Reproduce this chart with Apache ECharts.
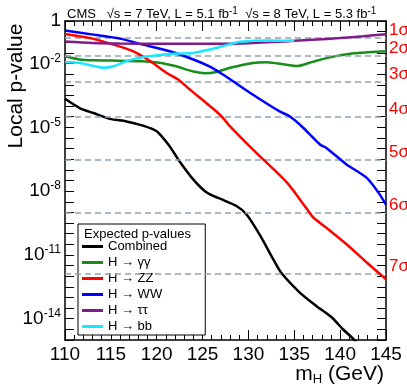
<!DOCTYPE html>
<html><head><meta charset="utf-8">
<script src="https://cdn.jsdelivr.net/npm/echarts@6/dist/echarts.min.js"></script>
<style>html,body{margin:0;padding:0;background:#fff}#c{width:407px;height:391px}</style>
</head><body><div id="c"></div>
<script>
// ---- data ----
const xMin = 110, xMax = 145;
const yMin = 1e-15, yMax = 1;
const yLabelExps = [0, -2, -5, -8, -11, -14];
const sigmaP = [0.1587, 0.02275, 1.35e-3, 3.17e-5, 2.87e-7, 9.87e-10, 1.28e-12];
const sigmaNames = ['1σ','2σ','3σ','4σ','5σ','6σ','7σ'];

const seriesNames = ['Combined', 'H → γγ', 'H → ZZ', 'H → WW', 'H → ττ', 'H → bb'];
const seriesColors = ['#000000', '#1a8c1a', '#ff0000', '#0000ff', '#821b8a', '#19e6ff'];

const combinedM = [110, 111.6, 113.1, 114.9, 116.7, 118.5, 120, 121.4, 122.5, 124, 125.5, 126.9, 128.7, 129.8, 131.3, 132.7, 133.6, 135.6, 137.4, 139.1, 140.3, 141.3, 142];
const combinedP = [2.2e-4, 8.1e-5, 4.7e-5, 2.5e-5, 1.9e-5, 1.2e-5, 6.5e-6, 1.3e-6, 2.5e-7, 3.5e-8, 8.3e-9, 4.4e-9, 2.0e-9, 7.9e-10, 7.9e-11, 6.3e-12, 1.4e-12, 1.7e-13, 4.0e-14, 1.15e-14, 3.2e-15, 1.3e-15, 6e-16];

const ggM = [110, 111.6, 113, 115, 118.5, 120.5, 122, 124, 125.3, 126.5, 128, 130.5, 132, 134, 135.3, 137, 139, 141.5, 143, 145];
const ggP = [0.0219, 0.0155, 0.0141, 0.0138, 0.0129, 0.0107, 0.0076, 0.0042, 0.0035, 0.0040, 0.0063, 0.0107, 0.0115, 0.0089, 0.0076, 0.0120, 0.0200, 0.0302, 0.0339, 0.0380];

const zzM = [110, 113, 115.3, 117.4, 119.3, 121.1, 122.4, 123.4, 126.9, 128, 130.5, 134.2, 136.4, 137.1, 138.5, 140.7, 142.9, 145];
const zzP = [0.245, 0.148, 0.0776, 0.0380, 0.0129, 3.6e-3, 1.7e-3, 7.2e-4, 3.9e-5, 1.1e-5, 8.9e-7, 2.5e-8, 1.4e-9, 5.6e-10, 1.9e-10, 3.2e-11, 4.4e-12, 7.2e-13];

const wwM = [110, 113.1, 116, 118.5, 121.4, 124, 125.8, 127, 127.8, 130.5, 133.4, 134.5, 136, 137.8, 138.5, 140.7, 142.9, 144.2, 145];
const wwP = [0.355, 0.229, 0.148, 0.0776, 0.0380, 0.0155, 7.1e-3, 3.5e-3, 2.1e-3, 3.4e-4, 5.6e-5, 3.3e-5, 9.3e-6, 1.55e-6, 1.07e-6, 1.8e-7, 4.2e-8, 8.3e-9, 2.3e-9];

const ttM = [110, 113, 116, 120, 124, 127, 130, 134, 137, 140, 142.5, 145];
const ttP = [0.110, 0.093, 0.087, 0.085, 0.085, 0.085, 0.091, 0.110, 0.132, 0.158, 0.191, 0.240];

const bbM = [110, 111.6, 113, 114.2, 115.3, 116.7, 118.5, 121.4, 124, 125.8, 127.8, 129.1, 132.4, 135];
const bbP = [0.0115, 0.0107, 0.0079, 0.0063, 0.0074, 0.0129, 0.0200, 0.0282, 0.0316, 0.0457, 0.0776, 0.105, 0.120, 0.117];

// ---- build ----
const FONT = 'Liberation Sans, Arial, sans-serif';
const zip = (m, p) => m.map((v, i) => [v, p[i]]);
const allData = [zip(combinedM, combinedP), zip(ggM, ggP), zip(zzM, zzP), zip(wwM, wwP), zip(ttM, ttP), zip(bbM, bbP)];

const chart = echarts.init(document.getElementById('c'), null, {renderer: 'canvas'});

const series = allData.map((d, i) => ({
  name: seriesNames[i], type: 'line', data: d, xAxisIndex: 0, yAxisIndex: 0,
  showSymbol: false, smooth: 0.25, clip: true,
  lineStyle: {color: seriesColors[i], width: 2.5}, itemStyle: {color: seriesColors[i]},
  z: 3 + i, animation: false
}));
series[0].markLine = {
  silent: true, symbol: ['none', 'none'], animation: false, precision: 20,
  lineStyle: {type: [6, 4], color: '#90a2b2', width: 1.5},
  label: {show: false},
  data: sigmaP.map(p => ({yAxis: p}))
};
series[0].z = 2;

const yLabelFmt = v => {
  const e = Math.round(Math.log10(v) * 2) / 2;
  if (e === 0) return '1';
  if (yLabelExps.includes(e)) return '10{s|' + e + '}';
  return '';
};
const sigmaFmt = v => {
  const i = sigmaP.findIndex(p => Math.abs(Math.log10(p) - Math.log10(v)) < 0.02);
  return i >= 0 ? sigmaNames[i] : '';
};

const option = {
  backgroundColor: '#fff',
  animation: false,
  textStyle: {fontFamily: FONT},
  grid: {left: 65, right: 21, top: 21, bottom: 51, containLabel: false, outerBoundsMode: 'none'},
  title: [{
    text: 'CMS   √s = 7 TeV, L = 5.1 fb{s|-1}  √s = 8 TeV, L = 5.3 fb{s|-1}',
    left: 62, top: 1,
    textStyle: {fontSize: 13, fontWeight: 'normal', color: '#000', fontFamily: FONT,
      rich: {s: {fontSize: 10, padding: [0, 0, 7, 0], fontFamily: FONT, color: '#000'}}}
  }, {
    text: 'Expected p-values', left: 79, top: 223,
    textStyle: {fontSize: 13, fontWeight: 'normal', color: '#000', fontFamily: FONT}
  }],
  legend: {
    data: seriesNames, orient: 'vertical', left: 78, top: 224,
    padding: [16, 38, 2, 4], itemGap: 3, itemWidth: 21, itemHeight: 3, icon: 'rect',
    borderColor: '#000', borderWidth: 1, backgroundColor: '#fff',
    textStyle: {fontSize: 13, color: '#000', fontFamily: FONT}, selectedMode: false
  },
  xAxis: [{
    type: 'value', min: xMin, max: xMax, interval: 5, position: 'bottom',
    axisLine: {show: true, lineStyle: {color: '#000', width: 1.5}},
    axisTick: {show: true, inside: true, length: 10, lineStyle: {color: '#000', width: 1}},
    minorTick: {show: true, splitNumber: 5, length: 5, lineStyle: {color: '#000', width: 1}},
    splitLine: {show: false},
    axisLabel: {fontSize: 19, color: '#000', fontFamily: FONT, margin: 5}
  }, {
    type: 'value', min: xMin, max: xMax, interval: 5, position: 'top',
    axisLine: {show: true, lineStyle: {color: '#000', width: 1.5}},
    axisTick: {show: true, inside: true, length: 10, lineStyle: {color: '#000', width: 1}},
    minorTick: {show: true, splitNumber: 5, length: 5, lineStyle: {color: '#000', width: 1}},
    splitLine: {show: false}, axisLabel: {show: false}
  }],
  yAxis: [{
    type: 'log', logBase: 10, min: yMin, max: yMax, interval: 0.5, position: 'left',
    axisLine: {show: true, lineStyle: {color: '#000', width: 1.5}},
    axisTick: {show: true, inside: true, length: 9, interval: 0, lineStyle: {color: '#000', width: 1}},
    splitLine: {show: false},
    axisLabel: {interval: 0, formatter: yLabelFmt, fontSize: 19, color: '#000', fontFamily: FONT, margin: 4,
      showMinLabel: true, showMaxLabel: true, hideOverlap: false,
      rich: {s: {fontSize: 12, padding: [0, 0, 10, 0], fontFamily: FONT, color: '#000'}}}
  }, {
    type: 'log', logBase: 10, min: yMin, max: yMax, interval: 0.5, position: 'right',
    axisLine: {show: true, lineStyle: {color: '#000', width: 1.5}},
    axisTick: {show: true, inside: true, length: 9, interval: 0, lineStyle: {color: '#000', width: 1}},
    splitLine: {show: false}, axisLabel: {show: false}
  }, {
    type: 'log', logBase: 10, min: yMin, max: yMax, position: 'right', offset: 0,
    axisLine: {show: false}, axisTick: {show: false}, splitLine: {show: false},
    axisLabel: {show: true, customValues: sigmaP, formatter: sigmaFmt, color: '#ff0000', fontSize: 17,
      fontFamily: FONT, margin: 3, verticalAlign: 'bottom', padding: [0, 0, -1, 0], hideOverlap: false}
  }],
  graphic: [{
    type: 'text', x: 16, y: 86, rotation: Math.PI / 2,
    style: {text: 'Local p-value', fontSize: 21, fontFamily: FONT, fill: '#000', align: 'center', verticalAlign: 'middle'}
  }, {
    type: 'text', x: 384, y: 362,
    style: {text: 'm{sub|H} (GeV)', fontSize: 21, fontFamily: FONT, fill: '#000', align: 'right', verticalAlign: 'top',
      rich: {sub: {fontSize: 13, padding: [11, 0, 0, 0], fontFamily: FONT, fill: '#000'}}}
  }],
  series: series
};
chart.setOption(option);
</script>
</body></html>
